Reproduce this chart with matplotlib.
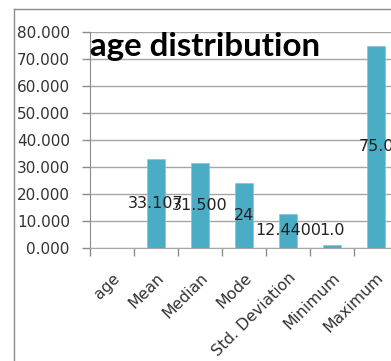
import matplotlib.pyplot as plt
from matplotlib.lines import Line2D

# data
categories = ['age', 'Mean', 'Median', 'Mode', 'Std. Deviation', 'Minimum', 'Maximum']
values = [0, 33.107, 31.5, 24, 12.44, 1.0, 75.0]
labels = ['', '33.107', '31.500', '24', '12.4400', '1.0', '75.0']
yticks = [0, 10, 20, 30, 40, 50, 60, 70, 80]

W, H = 391, 361
fig = plt.figure(figsize=(W / 100, H / 100), dpi=100)

# chart area border (left and top edges visible)
grey = '#8c8c8c'
fig.add_artist(Line2D([14 / W, 14 / W], [0, 1 - 9 / H], color=grey, lw=1))
fig.add_artist(Line2D([14 / W, 1], [1 - 9 / H, 1 - 9 / H], color=grey, lw=1))

ax = fig.add_axes([90 / W, 1 - 248 / H, 308 / W, 216 / H])
x = list(range(len(categories)))
ax.bar(x, values, width=0.39, color='#4bacc6', edgecolor='#7fc6d8', linewidth=0.5, zorder=3)

for xi, v, lab in zip(x, values, labels):
    if lab:
        ax.text(xi, max(v / 2, 6.6), lab, ha='center', va='center', fontsize=11.5,
                color='#222222', zorder=4)

ax.set_xlim(-0.5, len(categories) - 0.5)
ax.set_ylim(0, 80)
ax.set_yticks(yticks)
ax.set_yticklabels([f'{t:.3f}' for t in yticks], fontsize=11, color='#333333')
ax.yaxis.grid(True, color='#a6a6a6', lw=1)
ax.set_axisbelow(True)

# category boundary ticks
ax.set_xticks([i - 0.5 for i in x], minor=False)
ax.set_xticklabels([])
ax.set_xticks(x, minor=True)
ax.set_xticklabels(categories, minor=True, rotation=45, ha='right', va='top',
                   rotation_mode='anchor', fontsize=11.3, color='#333333')
ax.tick_params(axis='x', which='major', length=6, width=1, color=grey, direction='out')
ax.tick_params(axis='x', which='minor', length=0, pad=16)
ax.tick_params(axis='y', length=6, width=1, color=grey, direction='out', pad=8.5)

for s in ['top', 'right']:
    ax.spines[s].set_visible(False)
ax.spines['left'].set_color(grey)
ax.spines['bottom'].set_color('#a6a6a6')

ax.text(0.0, 1.0, 'age distribution', transform=ax.transAxes, ha='left', va='top',
        fontsize=23.8, fontweight='bold', family=['Lato', 'DejaVu Sans'], zorder=5)

fig.savefig('out.png', dpi=100)
